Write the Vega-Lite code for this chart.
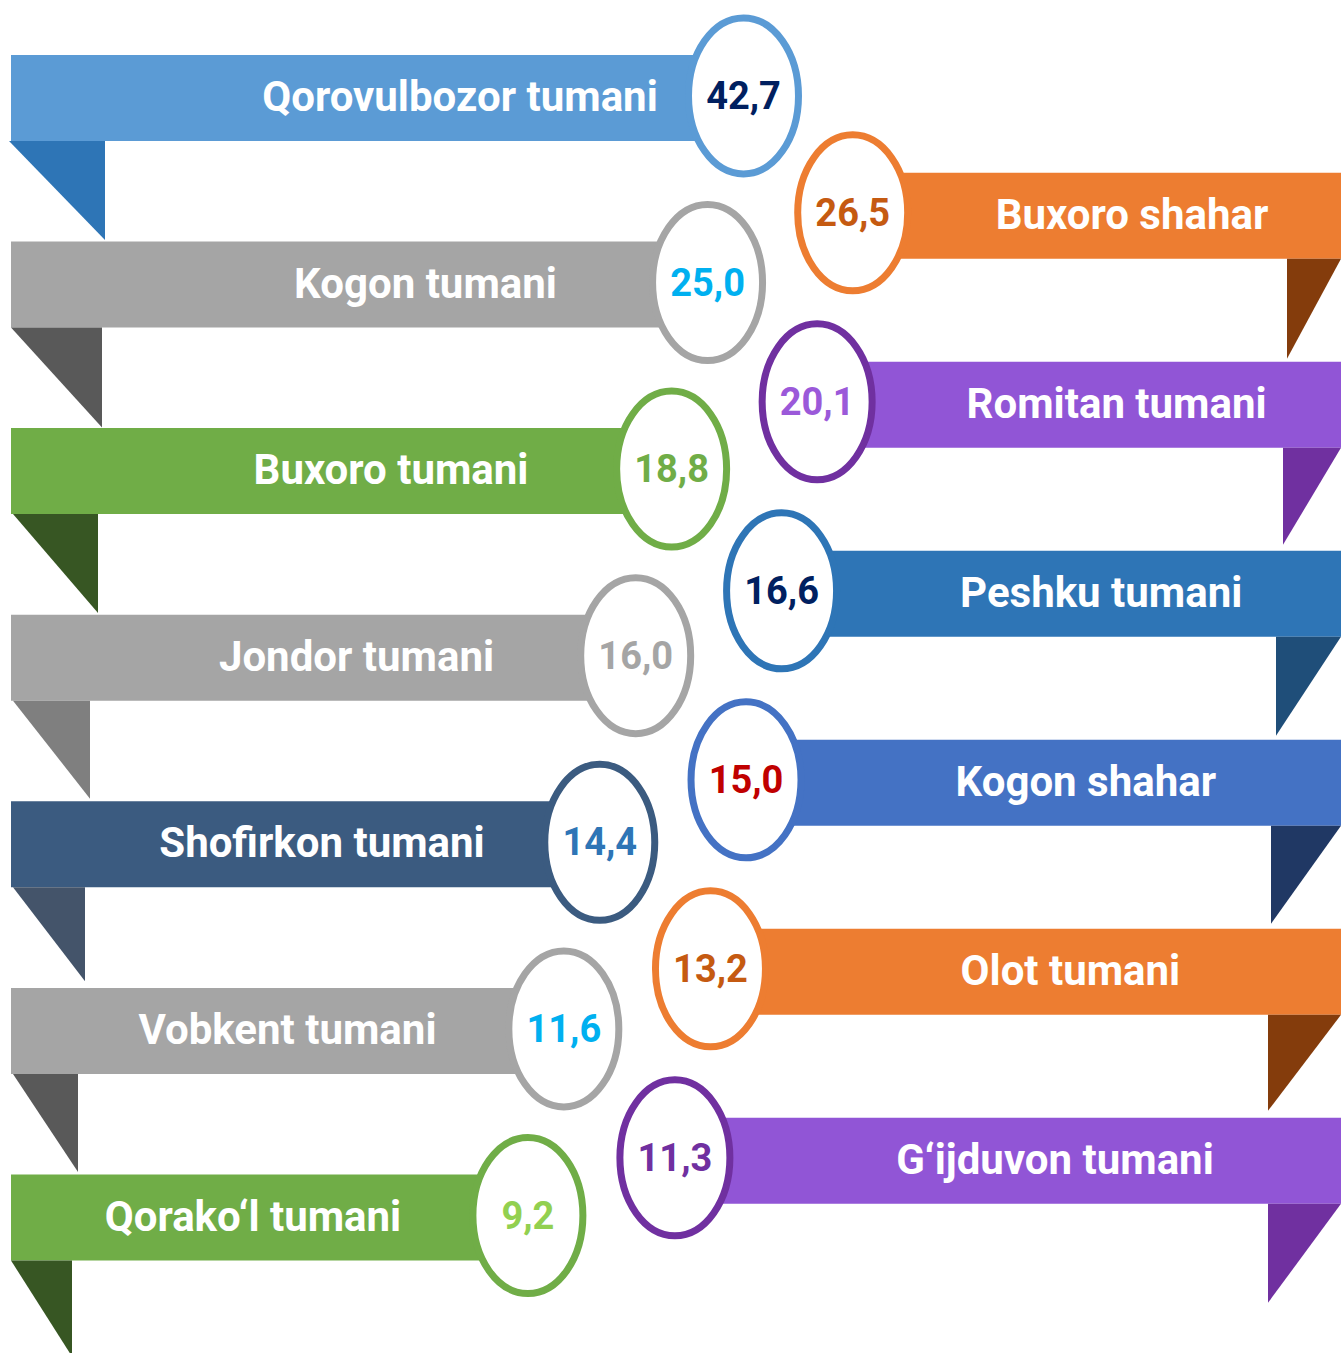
{
  "$schema": "https://vega.github.io/schema/vega-lite/v6.json",
  "width": 1341,
  "height": 1353,
  "padding": 0,
  "autosize": {"type": "none"},
  "background": "white",
  "config": {
    "view": {"stroke": null},
    "locale": {"number": {"decimal": ",", "thousands": " ", "grouping": [3], "currency": ["", ""]}}
  },
  "data": {
    "values": [
      {"name": "Qorovulbozor tumani", "value": 42.7},
      {"name": "Buxoro shahar", "value": 26.5},
      {"name": "Kogon tumani", "value": 25.0},
      {"name": "Romitan tumani", "value": 20.1},
      {"name": "Buxoro tumani", "value": 18.8},
      {"name": "Peshku tumani", "value": 16.6},
      {"name": "Jondor tumani", "value": 16.0},
      {"name": "Kogon shahar", "value": 15.0},
      {"name": "Shofirkon tumani", "value": 14.4},
      {"name": "Olot tumani", "value": 13.2},
      {"name": "Vobkent tumani", "value": 11.6},
      {"name": "G‘ijduvon tumani", "value": 11.3},
      {"name": "Qorako‘l tumani", "value": 9.2}
    ]
  },
  "transform": [
    {"window": [{"op": "row_number", "as": "rank"}], "sort": [{"field": "value", "order": "descending"}]}
  ],
  "layer": [
    {
      "transform": [{"filter": "datum.rank % 2 == 1"}],
      "mark": {"type": "rect", "yOffset": -43, "y2Offset": 43, "opacity": 1},
      "encoding": {
        "x": {"field": "rank", "type": "quantitative", "scale": {"domain": [1, 13], "range": [743.5, 527.9]}, "axis": null},
        "x2": {"value": 11},
        "y": {"field": "rank", "type": "quantitative", "scale": {"domain": [1, 13], "range": [97.9, 1217.5]}, "axis": null},
        "y2": {"field": "rank"},
        "color": {"field": "name", "type": "nominal", "legend": null,
          "scale": {"domain": ["Qorovulbozor tumani", "Buxoro shahar", "Kogon tumani", "Romitan tumani", "Buxoro tumani", "Peshku tumani", "Jondor tumani", "Kogon shahar", "Shofirkon tumani", "Olot tumani", "Vobkent tumani", "G‘ijduvon tumani", "Qorako‘l tumani"],
                    "range": ["#5B9BD5", "#ED7D31", "#A5A5A5", "#9155D6", "#70AD47", "#2E75B6", "#A5A5A5", "#4472C4", "#3B5B80", "#ED7D31", "#A5A5A5", "#9155D6", "#70AD47"]}}
      }
    },
    {
      "transform": [{"filter": "datum.rank % 2 == 0"}],
      "mark": {"type": "rect", "yOffset": -43, "y2Offset": 43, "opacity": 1},
      "encoding": {
        "x": {"field": "rank", "type": "quantitative", "scale": {"domain": [2, 12], "range": [852.7, 674.9]}, "axis": null},
        "x2": {"value": "width"},
        "y": {"field": "rank", "type": "quantitative", "scale": {"domain": [2, 12], "range": [215.8, 1160.8]}, "axis": null},
        "y2": {"field": "rank"},
        "color": {"field": "name", "type": "nominal", "legend": null,
          "scale": {"domain": ["Qorovulbozor tumani", "Buxoro shahar", "Kogon tumani", "Romitan tumani", "Buxoro tumani", "Peshku tumani", "Jondor tumani", "Kogon shahar", "Shofirkon tumani", "Olot tumani", "Vobkent tumani", "G‘ijduvon tumani", "Qorako‘l tumani"],
                    "range": ["#5B9BD5", "#ED7D31", "#A5A5A5", "#9155D6", "#70AD47", "#2E75B6", "#A5A5A5", "#4472C4", "#3B5B80", "#ED7D31", "#A5A5A5", "#9155D6", "#70AD47"]}}
      }
    },
    {
      "transform": [{"filter": "datum.rank % 2 == 1"}],
      "mark": {"type": "point", "filled": true, "opacity": 1, "size": 4, "strokeWidth": 0, "yOffset": 43},
      "encoding": {
        "x": {"value": 0},
        "y": {"field": "rank", "type": "quantitative", "scale": {"domain": [1, 13], "range": [97.9, 1217.5]}, "axis": null},
        "shape": {"field": "name", "type": "nominal", "legend": null,
          "scale": {"domain": ["Qorovulbozor tumani", "Kogon tumani", "Buxoro tumani", "Jondor tumani", "Shofirkon tumani", "Vobkent tumani", "Qorako‘l tumani"],
                    "range": ["M 9 0 L 105 0 L 105 99 Z", "M 11 0 L 102 0 L 102 100 Z", "M 13 0 L 98 0 L 98 99 Z", "M 13 0 L 90 0 L 90 98 Z", "M 13 0 L 85 0 L 85 94 Z", "M 13 0 L 78 0 L 78 98 Z", "M 11 0 L 72 0 L 72 96 Z"]}},
        "color": {"field": "name", "type": "nominal", "legend": null,
          "scale": {"domain": ["Qorovulbozor tumani", "Buxoro shahar", "Kogon tumani", "Romitan tumani", "Buxoro tumani", "Peshku tumani", "Jondor tumani", "Kogon shahar", "Shofirkon tumani", "Olot tumani", "Vobkent tumani", "G‘ijduvon tumani", "Qorako‘l tumani"],
                    "range": ["#2E75B6", "#843C0C", "#595959", "#7030A0", "#375623", "#1F4E79", "#7F7F7F", "#203864", "#44546A", "#843C0C", "#595959", "#7030A0", "#375623"]}}
      }
    },
    {
      "transform": [{"filter": "datum.rank % 2 == 0"}],
      "mark": {"type": "point", "filled": true, "opacity": 1, "size": 4, "strokeWidth": 0, "yOffset": 43},
      "encoding": {
        "x": {"value": "width"},
        "y": {"field": "rank", "type": "quantitative", "scale": {"domain": [2, 12], "range": [215.8, 1160.8]}, "axis": null},
        "shape": {"field": "name", "type": "nominal", "legend": null,
          "scale": {"domain": ["Buxoro shahar", "Romitan tumani", "Peshku tumani", "Kogon shahar", "Olot tumani", "G‘ijduvon tumani"],
                    "range": ["M 0 0 L -54 0 L -54 100 Z", "M 0 0 L -58 0 L -58 97 Z", "M 0 0 L -65 0 L -65 99 Z", "M 0 0 L -70 0 L -70 98 Z", "M 0 0 L -73 0 L -73 96 Z", "M 0 0 L -73 0 L -73 99 Z"]}},
        "color": {"field": "name", "type": "nominal", "legend": null,
          "scale": {"domain": ["Qorovulbozor tumani", "Buxoro shahar", "Kogon tumani", "Romitan tumani", "Buxoro tumani", "Peshku tumani", "Jondor tumani", "Kogon shahar", "Shofirkon tumani", "Olot tumani", "Vobkent tumani", "G‘ijduvon tumani", "Qorako‘l tumani"],
                    "range": ["#2E75B6", "#843C0C", "#595959", "#7030A0", "#375623", "#1F4E79", "#7F7F7F", "#203864", "#44546A", "#843C0C", "#595959", "#7030A0", "#375623"]}}
      }
    },
    {
      "transform": [{"filter": "datum.rank % 2 == 1"}],
      "mark": {"type": "point", "filled": true, "fill": "white", "opacity": 1, "size": 24336, "strokeWidth": 7,
               "shape": "M 0.705 0 C 0.705 0.5523 0.3894 1 0 1 C -0.3894 1 -0.705 0.5523 -0.705 0 C -0.705 -0.5523 -0.3894 -1 0 -1 C 0.3894 -1 0.705 -0.5523 0.705 0 Z"},
      "encoding": {
        "x": {"field": "rank", "type": "quantitative", "scale": {"domain": [1, 13], "range": [743.5, 527.9]}, "axis": null},
        "y": {"field": "rank", "type": "quantitative", "scale": {"domain": [1, 13], "range": [95.9, 1215.5]}, "axis": null},
        "stroke": {"field": "name", "type": "nominal", "legend": null,
          "scale": {"domain": ["Qorovulbozor tumani", "Buxoro shahar", "Kogon tumani", "Romitan tumani", "Buxoro tumani", "Peshku tumani", "Jondor tumani", "Kogon shahar", "Shofirkon tumani", "Olot tumani", "Vobkent tumani", "G‘ijduvon tumani", "Qorako‘l tumani"],
                    "range": ["#5B9BD5", "#ED7D31", "#A5A5A5", "#7030A0", "#70AD47", "#2E75B6", "#A5A5A5", "#4472C4", "#3B5B80", "#ED7D31", "#A5A5A5", "#7030A0", "#70AD47"]}}
      }
    },
    {
      "transform": [{"filter": "datum.rank % 2 == 0"}],
      "mark": {"type": "point", "filled": true, "fill": "white", "opacity": 1, "size": 24336, "strokeWidth": 7,
               "shape": "M 0.705 0 C 0.705 0.5523 0.3894 1 0 1 C -0.3894 1 -0.705 0.5523 -0.705 0 C -0.705 -0.5523 -0.3894 -1 0 -1 C 0.3894 -1 0.705 -0.5523 0.705 0 Z"},
      "encoding": {
        "x": {"field": "rank", "type": "quantitative", "scale": {"domain": [2, 12], "range": [852.7, 674.9]}, "axis": null},
        "y": {"field": "rank", "type": "quantitative", "scale": {"domain": [2, 12], "range": [212.8, 1157.8]}, "axis": null},
        "stroke": {"field": "name", "type": "nominal", "legend": null,
          "scale": {"domain": ["Qorovulbozor tumani", "Buxoro shahar", "Kogon tumani", "Romitan tumani", "Buxoro tumani", "Peshku tumani", "Jondor tumani", "Kogon shahar", "Shofirkon tumani", "Olot tumani", "Vobkent tumani", "G‘ijduvon tumani", "Qorako‘l tumani"],
                    "range": ["#5B9BD5", "#ED7D31", "#A5A5A5", "#7030A0", "#70AD47", "#2E75B6", "#A5A5A5", "#4472C4", "#3B5B80", "#ED7D31", "#A5A5A5", "#7030A0", "#70AD47"]}}
      }
    },
    {
      "transform": [{"filter": "datum.rank % 2 == 1"}],
      "mark": {"type": "text", "align": "center", "baseline": "middle", "font": "Roboto", "fontWeight": "bold", "fontSize": 38, "dy": 2},
      "encoding": {
        "x": {"field": "rank", "type": "quantitative", "scale": {"domain": [1, 13], "range": [743.5, 527.9]}, "axis": null},
        "y": {"field": "rank", "type": "quantitative", "scale": {"domain": [1, 13], "range": [95.9, 1215.5]}, "axis": null},
        "text": {"field": "value", "type": "quantitative", "format": ".1f"},
        "color": {"field": "name", "type": "nominal", "legend": null,
          "scale": {"domain": ["Qorovulbozor tumani", "Buxoro shahar", "Kogon tumani", "Romitan tumani", "Buxoro tumani", "Peshku tumani", "Jondor tumani", "Kogon shahar", "Shofirkon tumani", "Olot tumani", "Vobkent tumani", "G‘ijduvon tumani", "Qorako‘l tumani"],
                    "range": ["#002060", "#C55A11", "#00B0F0", "#9B59D9", "#70AD47", "#002060", "#A5A5A5", "#C00000", "#2E75B6", "#C55A11", "#00B0F0", "#7030A0", "#92D050"]}}
      }
    },
    {
      "transform": [{"filter": "datum.rank % 2 == 0"}],
      "mark": {"type": "text", "align": "center", "baseline": "middle", "font": "Roboto", "fontWeight": "bold", "fontSize": 38, "dy": 2},
      "encoding": {
        "x": {"field": "rank", "type": "quantitative", "scale": {"domain": [2, 12], "range": [852.7, 674.9]}, "axis": null},
        "y": {"field": "rank", "type": "quantitative", "scale": {"domain": [2, 12], "range": [212.8, 1157.8]}, "axis": null},
        "text": {"field": "value", "type": "quantitative", "format": ".1f"},
        "color": {"field": "name", "type": "nominal", "legend": null,
          "scale": {"domain": ["Qorovulbozor tumani", "Buxoro shahar", "Kogon tumani", "Romitan tumani", "Buxoro tumani", "Peshku tumani", "Jondor tumani", "Kogon shahar", "Shofirkon tumani", "Olot tumani", "Vobkent tumani", "G‘ijduvon tumani", "Qorako‘l tumani"],
                    "range": ["#002060", "#C55A11", "#00B0F0", "#9B59D9", "#70AD47", "#002060", "#A5A5A5", "#C00000", "#2E75B6", "#C55A11", "#00B0F0", "#7030A0", "#92D050"]}}
      }
    },
    {
      "transform": [{"filter": "datum.rank % 2 == 1"}],
      "mark": {"type": "text", "align": "center", "baseline": "middle", "font": "Roboto", "fontWeight": "bold", "fontSize": 42, "color": "white", "dy": 0},
      "encoding": {
        "x": {"field": "rank", "type": "quantitative", "scale": {"domain": [1, 13], "range": [460, 253]}, "axis": null},
        "y": {"field": "rank", "type": "quantitative", "scale": {"domain": [1, 13], "range": [97.9, 1217.5]}, "axis": null},
        "text": {"field": "name", "type": "nominal"}
      }
    },
    {
      "transform": [{"filter": "datum.rank % 2 == 0"}],
      "mark": {"type": "text", "align": "center", "baseline": "middle", "font": "Roboto", "fontWeight": "bold", "fontSize": 42, "color": "white", "dy": 0},
      "encoding": {
        "x": {"field": "rank", "type": "quantitative", "scale": {"domain": [2, 12], "range": [1132, 1055]}, "axis": null},
        "y": {"field": "rank", "type": "quantitative", "scale": {"domain": [2, 12], "range": [215.8, 1160.8]}, "axis": null},
        "text": {"field": "name", "type": "nominal"}
      }
    }
  ],
  "resolve": {"scale": {"x": "independent", "y": "independent", "color": "independent", "stroke": "independent", "shape": "independent"}}
}
